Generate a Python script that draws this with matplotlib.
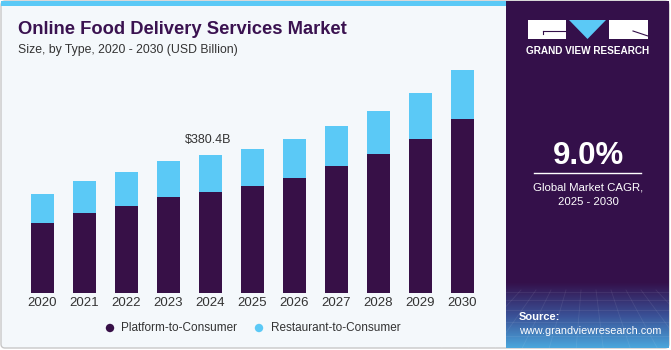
import numpy as np
import matplotlib.pyplot as plt
from matplotlib.patches import Rectangle, Polygon, Circle, FancyBboxPatch
from matplotlib.colors import LinearSegmentedColormap

years = ["2020", "2021", "2022", "2023", "2024", "2025", "2026", "2027", "2028", "2029", "2030"]
platform = [193.4, 220.0, 240.4, 264.4, 279.1, 295.6, 318.8, 350.0, 384.0, 425.5, 480.0]
restaurant = [80.1, 89.5, 93.9, 100.3, 101.3, 103.4, 107.8, 112.5, 120.0, 128.2, 137.0]
labels = ["Platform-to-Consumer", "Restaurant-to-Consumer"]
highlight_idx = 4
highlight_text = "$380.4B"

DARK = "#371047"
LIGHT = "#5bc9f6"
BG = "#f4f8fb"
PANEL = "#34104a"
TXT = "#333333"

plt.rcParams['font.family'] = ['Liberation Sans', 'DejaVu Sans']

fig = plt.figure(figsize=(6.71, 3.5), dpi=100)
fig.patch.set_facecolor("white")

# background / decoration layer in pixel coords
bg = fig.add_axes([0, 0, 1, 1], zorder=0)
bg.set_xlim(0, 671)
bg.set_ylim(350, 0)
bg.axis("off")
bg.add_patch(FancyBboxPatch((1, 1), 668, 347, boxstyle="round,pad=0,rounding_size=4",
                            facecolor=BG, edgecolor="#c8c8c8", lw=1))
bg.add_patch(Rectangle((1, 1), 505, 5, facecolor=LIGHT, edgecolor="none"))
bg.add_patch(Rectangle((506, 1), 163, 347, facecolor=PANEL, edgecolor="none"))

# bottom gradient of the side panel
cmap = LinearSegmentedColormap.from_list("g", [PANEL, "#3a4f95", "#4aa6dc"])
grad = np.linspace(0, 1, 100).reshape(-1, 1)
bg.imshow(grad, extent=[506, 669, 348, 282], cmap=cmap, aspect="auto", zorder=1)
for k in range(12):
    x0 = 506 + k * 15
    bg.plot([x0, 587 + (x0 - 587) * 1.8], [290, 348], color="white", alpha=0.08, lw=0.6, zorder=2)
for yy in [292, 300, 310, 322, 336]:
    bg.plot([506, 669], [yy, yy], color="white", alpha=0.08, lw=0.6, zorder=2)

# logo
bg.add_patch(Rectangle((528, 20), 38, 19, facecolor="white", edgecolor="none", zorder=3))
bg.plot([543, 566], [30.5, 30.5], color=PANEL, lw=0.8, zorder=4)
bg.plot([543, 543], [30.5, 34], color=PANEL, lw=0.8, zorder=4)
bg.add_patch(Polygon([(569, 20), (606, 20), (587.5, 39)], closed=True, facecolor=LIGHT,
                     edgecolor="none", zorder=3))
bg.add_patch(Rectangle((609, 20), 39, 19, facecolor="white", edgecolor="none", zorder=3))
bg.plot([633, 648], [31, 36], color=PANEL, lw=0.8, zorder=4)
bg.text(588, 51, "GRAND VIEW RESEARCH", color="white", fontsize=7.2, fontweight="bold",
        ha="center", va="center", zorder=3)

# CAGR block
bg.text(588, 156, "9.0%", color="white", fontsize=22.5, fontweight="bold",
        ha="center", va="center", zorder=3)
bg.plot([534, 641], [173, 173], color="white", lw=1, zorder=3)
bg.text(588, 187, "Global Market CAGR,", color="white", fontsize=8.2, ha="center", va="center", zorder=3)
bg.text(588, 202, "2025 - 2030", color="white", fontsize=8.2, ha="center", va="center", zorder=3)
bg.text(519, 317, "Source:", color="white", fontsize=8, fontweight="bold", ha="left", va="center", zorder=3)
bg.text(519, 331, "www.grandviewresearch.com", color="white", fontsize=7.8, ha="left", va="center", zorder=3)

# titles
bg.text(18, 29, "Online Food Delivery Services Market", color="#3a1250", fontsize=13.2,
        fontweight="heavy", ha="left", va="center")
bg.text(18, 50, "Size, by Type, 2020 - 2030 (USD Billion)", color=TXT, fontsize=8.8,
        ha="left", va="center")

# legend
bg.add_patch(Circle((110, 328), 4.2, facecolor=DARK, edgecolor="none"))
bg.text(121, 328, labels[0], color=TXT, fontsize=8.5, ha="left", va="center")
bg.add_patch(Circle((259, 328), 4.2, facecolor=LIGHT, edgecolor="none"))
bg.text(271, 328, labels[1], color=TXT, fontsize=8.5, ha="left", va="center")

# bar chart
ymax = 700
ax_h = ymax / 2.763
ax = fig.add_axes([21.5 / 671, 57 / 350, 462 / 671, ax_h / 350], zorder=2)
ax.patch.set_alpha(0)
x = np.arange(len(years))
ax.bar(x, platform, width=0.55, color=DARK, edgecolor="none")
ax.bar(x, restaurant, bottom=platform, width=0.55, color=LIGHT, edgecolor="none")
ax.set_xlim(-0.5, len(years) - 0.5)
ax.set_ylim(0, ymax)
ax.set_xticks(x)
ax.set_xticklabels(years, fontsize=9.5, color=TXT)
ax.tick_params(axis="x", length=0, pad=3)
ax.set_yticks([])
for s in ax.spines.values():
    s.set_visible(False)
total = platform[highlight_idx] + restaurant[highlight_idx]
ax.annotate(highlight_text, (x[highlight_idx], total), xytext=(-2, 7), textcoords="offset points",
            ha="center", va="bottom", fontsize=9, color=TXT)

fig.savefig("out.png", dpi=100, facecolor=fig.get_facecolor())
